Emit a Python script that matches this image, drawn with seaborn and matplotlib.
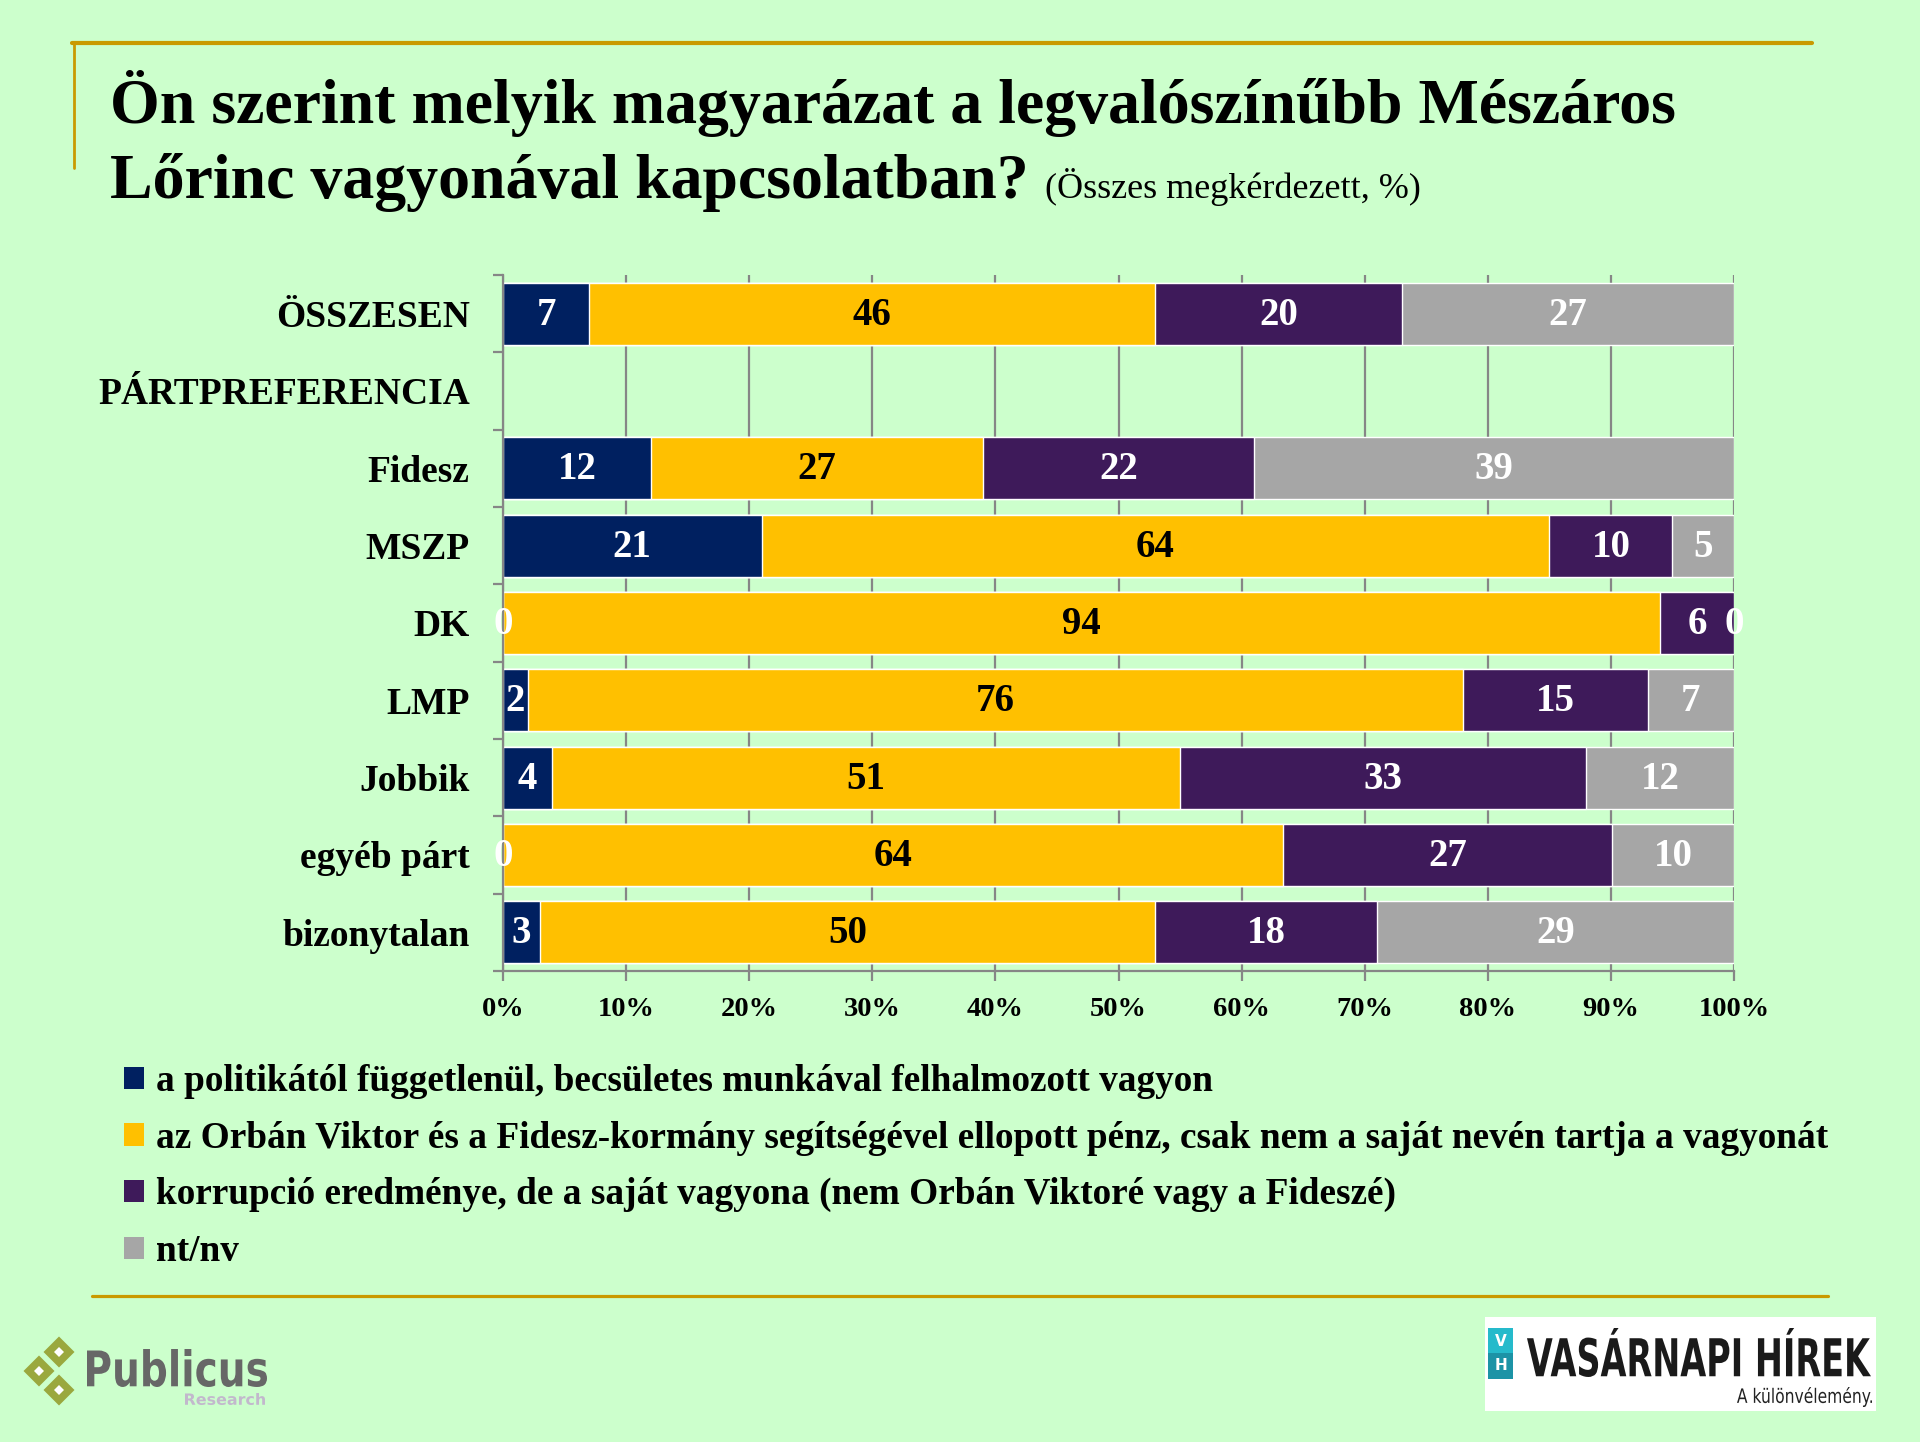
import numpy as np
import pandas as pd
import matplotlib
matplotlib.use("Agg")
import matplotlib.pyplot as plt
import seaborn as sns
from matplotlib.patches import Patch, Rectangle, Polygon, PathPatch
from matplotlib.lines import Line2D
from matplotlib.textpath import TextPath
from matplotlib.font_manager import FontProperties
import matplotlib.transforms as mtransforms

# data (percent)
categories = ["ÖSSZESEN", "PÁRTPREFERENCIA", "Fidesz", "MSZP", "DK", "LMP",
              "Jobbik", "egyéb párt", "bizonytalan"]
becsuletes = [7, np.nan, 12, 21, 0, 2, 4, 0, 3]
ellopott = [46, np.nan, 27, 64, 94, 76, 51, 64, 50]
korrupcio = [20, np.nan, 22, 10, 6, 15, 33, 27, 18]
ntnv = [27, np.nan, 39, 5, 0, 7, 12, 10, 29]
series_labels = [
    "a politikától függetlenül, becsületes munkával felhalmozott vagyon",
    "az Orbán Viktor és a Fidesz-kormány segítségével ellopott pénz, csak nem a saját nevén tartja a vagyonát",
    "korrupció eredménye, de a saját vagyona (nem Orbán Viktoré vagy a Fideszé)",
    "nt/nv",
]
x_ticks = [0, 10, 20, 30, 40, 50, 60, 70, 80, 90, 100]

colors = ["#002060", "#FFC000", "#3E1A5A", "#A6A6A6"]
text_colors = ["white", "black", "white", "white"]
BG = "#CCFFCC"
GOLD = "#C99A00"
GRID = "#868686"
W, H = 1920, 1442

sns.set_theme(style="white", rc={"axes.facecolor": BG, "figure.facecolor": BG,
                                 "text.color": "black", "xtick.color": "black",
                                 "ytick.color": "black"})
plt.rcParams["font.family"] = ["Liberation Serif", "DejaVu Serif"]


def fx(x):
    return x / W


def fy(y):
    return 1 - y / H


cols = ["s1", "s2", "s3", "s4"]
df = pd.DataFrame({"cat": categories, "s1": becsuletes, "s2": ellopott,
                   "s3": korrupcio, "s4": ntnv})
pct = df[cols].div(df[cols].sum(axis=1, min_count=1), axis=0) * 100
cum = pct.cumsum(axis=1)

fig = plt.figure(figsize=(W / 100, H / 100), dpi=100)
ax = fig.add_axes([fx(503), fy(971), (1734 - 503) / W, (971 - 275) / H])

# stacked bars: draw cumulative totals from the outside in
for i in reversed(range(4)):
    sns.barplot(x=cum[cols[i]], y=df["cat"], order=categories, orient="h",
                color=colors[i], saturation=1, width=0.8, errorbar=None,
                ax=ax)

for j in range(len(categories)):
    for i in range(4):
        v = df[cols[i]].iloc[j]
        if np.isnan(v):
            continue
        mid = cum[cols[i]].iloc[j] - pct[cols[i]].iloc[j] / 2
        ax.text(mid, j + 0.02, f"{int(v)}", ha="center", va="center",
                color=text_colors[i], fontsize=28, fontweight="bold",
                clip_on=False, zorder=5)

ax.set_xlim(0, 100)
ax.set_ylim(len(categories) - 0.5, -0.5)
ax.set_axisbelow(True)
ax.grid(axis="x", color=GRID, lw=1.6)
ax.grid(axis="y", visible=False)
ax.set_xticks(x_ticks)
ax.set_xticklabels([f"{t}%" for t in x_ticks], fontsize=20.5, fontweight="bold")
ax.set_yticks(range(len(categories)))
ax.set_yticklabels(categories, fontsize=27, fontweight="bold")
ax.set_yticks(np.arange(-0.5, len(categories), 1), minor=True)
ax.tick_params(axis="y", which="major", length=0, pad=24)
ax.tick_params(axis="y", which="minor", left=True, length=7, width=1.6,
               color=GRID, direction="out")
ax.tick_params(axis="x", bottom=True, length=7, width=1.6, color=GRID,
               direction="out", pad=12)
ax.set_xlabel("")
ax.set_ylabel("")
for s in ["top", "right"]:
    ax.spines[s].set_visible(False)
for s in ["left", "bottom"]:
    ax.spines[s].set_color(GRID)
    ax.spines[s].set_linewidth(1.6)

# legend
handles = [Patch(facecolor=c, edgecolor="none") for c in colors]
fig.legend(handles, series_labels, loc="upper left",
           bbox_to_anchor=(fx(124), fy(1064)), frameon=False,
           prop={"family": "Liberation Serif", "weight": "bold", "size": 26.8},
           handlelength=0.55, handleheight=0.55, handletextpad=0.32,
           labelspacing=0.58, borderpad=0, borderaxespad=0)

# title
fig.text(fx(110), fy(123), "Ön szerint melyik magyarázat a legvalószínűbb Mészáros",
         fontsize=46, fontweight="bold", va="baseline", ha="left")
t2 = fig.text(fx(110), fy(198), "Lőrinc vagyonával kapcsolatban?",
              fontsize=46, fontweight="bold", va="baseline", ha="left")
fig.canvas.draw()
x_end = t2.get_window_extent(fig.canvas.get_renderer()).x1
fig.text(x_end / W + fx(16), fy(198), "(Összes megkérdezett, %)",
         fontsize=26, va="baseline", ha="left")

# decorative gold rules
fig.add_artist(Line2D([fx(72), fx(1812)], [fy(43), fy(43)], color=GOLD, lw=3))
fig.add_artist(Line2D([fx(74), fx(74)], [fy(43), fy(168)], color=GOLD, lw=2))
fig.add_artist(Line2D([fx(92), fx(1828)], [fy(1296), fy(1296)], color=GOLD, lw=2.3))


def fit_text(s, x0, y0, x1, y1, color, family="DejaVu Sans", weight="bold"):
    # stretch a text outline into the pixel box (x0, y0)-(x1, y1), y from top
    tp = TextPath((0, 0), s, size=1, prop=FontProperties(family=family, weight=weight))
    ext = tp.get_extents()
    tr = (mtransforms.Affine2D()
          .translate(-ext.x0, -ext.y0)
          .scale((x1 - x0) / ext.width, (y1 - y0) / ext.height)
          .translate(x0, H - y1)
          .scale(1 / W, 1 / H))
    fig.add_artist(PathPatch(tr.transform_path(tp), facecolor=color,
                             edgecolor="none", transform=fig.transFigure))


def diamond(cx, cy, r, color):
    pts = [(fx(cx), fy(cy - r)), (fx(cx + r), fy(cy)),
           (fx(cx), fy(cy + r)), (fx(cx - r), fy(cy))]
    fig.add_artist(Polygon(pts, closed=True, facecolor=color, edgecolor="none",
                           transform=fig.transFigure))


# Publicus logo
for cx, cy in [(59, 1352), (39, 1371), (59, 1390)]:
    diamond(cx, cy, 15.5, "#9AA83E")
    diamond(cx, cy, 5, "white")
fit_text("Publicus", 87, 1349, 267, 1387, "#676767")
fit_text("Research", 185, 1393, 265, 1405, "#C2B8CC")

# Vasárnapi Hírek logo
fig.add_artist(Rectangle((fx(1485), fy(1411)), (1876 - 1485) / W, (1411 - 1317) / H,
                         facecolor="white", edgecolor="none", transform=fig.transFigure))
fig.add_artist(Rectangle((fx(1488), fy(1353)), 25 / W, 25 / H,
                         facecolor="#25BACB", edgecolor="none", transform=fig.transFigure))
fig.add_artist(Rectangle((fx(1488), fy(1379)), 25 / W, 26 / H,
                         facecolor="#1C93A6", edgecolor="none", transform=fig.transFigure))
fig.text(fx(1500.5), fy(1341), "V", color="white", fontsize=11, fontweight="bold",
         family="DejaVu Sans", ha="center", va="center")
fig.text(fx(1500.5), fy(1366), "H", color="white", fontsize=11, fontweight="bold",
         family="DejaVu Sans", ha="center", va="center")
fit_text("VASÁRNAPI HÍREK", 1527, 1328, 1871, 1377, "#1A1A1A")
fit_text("A különvélemény.", 1737, 1387, 1872, 1407, "#222222", weight="normal")

fig.savefig("out.png", dpi=100, facecolor=BG)
